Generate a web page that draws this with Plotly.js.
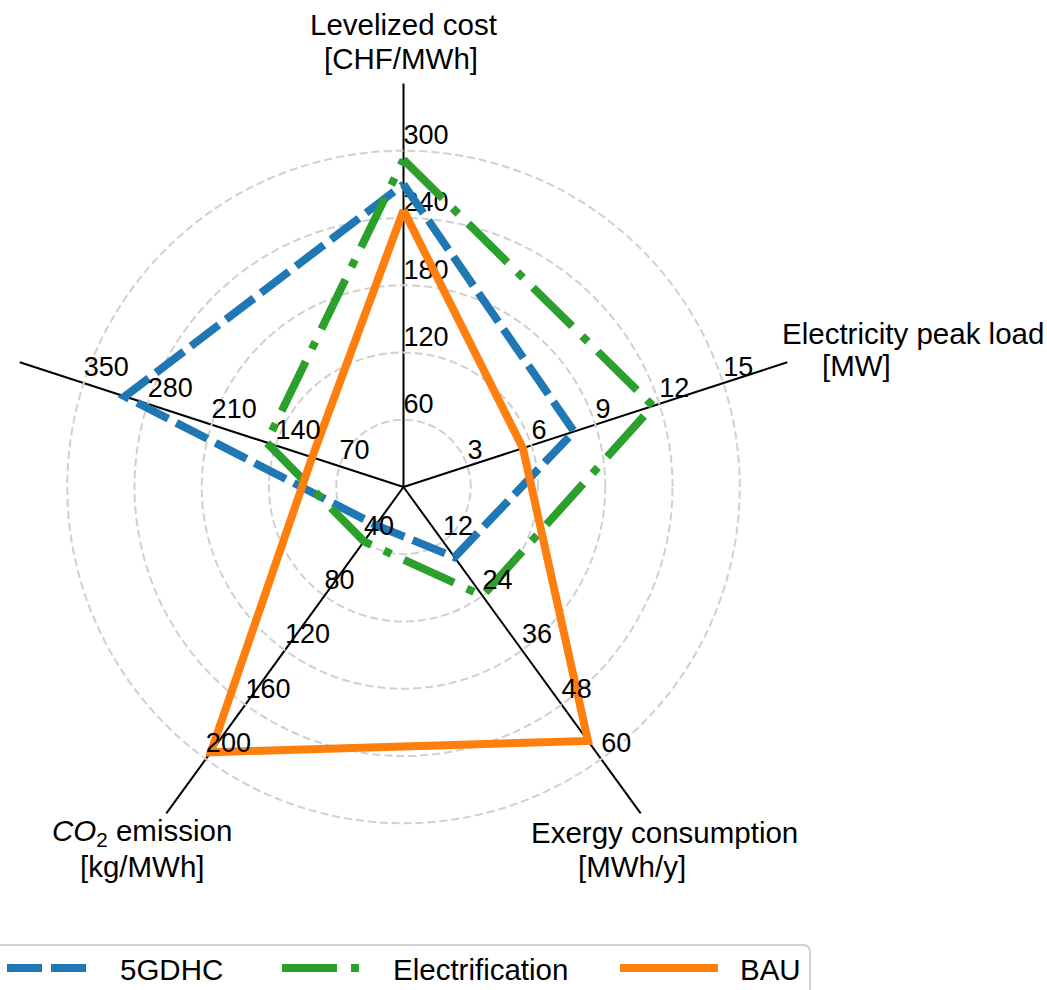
<!DOCTYPE html>
<html>
<head>
<meta charset="utf-8">
<script src="https://cdn.plot.ly/plotly-3.0.1.min.js"></script>
<style>html,body{margin:0;padding:0;background:#fff;}#chart{width:1047px;height:990px;}</style>
</head>
<body>
<div id="chart"></div>
<script>
// ---- data ----
const axisNames = ['Levelized cost', 'Electricity peak load', 'Exergy consumption', 'CO2 emission', 'Fifth axis'];
const ticksCost = [60, 120, 180, 240, 300];
const ticksPeak = [3, 6, 9, 12, 15];
const ticksExergy = [12, 24, 36, 48, 60];
const ticksCO2 = [40, 80, 120, 160, 200];
const ticksFifth = [70, 140, 210, 280, 350];
const seriesNames = ['5GDHC', 'Electrification', 'BAU'];
const gdhc = [270, 8.0, 15.5, 28, 305];
const electrification = [292, 11.7, 24, 40, 150];
const bau = [247, 5.6, 56, 195, 100];

// ---- helpers ----
const W = 1047, H = 990;
const px = x => x / W;
const py = y => 1 - y / H;
const tickSets = [ticksCost, ticksPeak, ticksExergy, ticksCO2, ticksFifth];
const steps = tickSets.map(t => t[1] - t[0]);
const FONT = '"Liberation Sans", Arial, sans-serif';

function tickTrace(i) {
  const t = tickSets[i];
  return {
    type: 'scatterpolar', mode: 'text',
    r: t.map(v => v / steps[i]),
    theta: t.map(() => axisNames[i]),
    text: t.map(String),
    textposition: 'top right',
    textfont: {family: FONT, size: 27, color: '#000'},
    cliponaxis: false, hoverinfo: 'skip', showlegend: false
  };
}
function seriesTrace(vals, name, color, dash) {
  const r = vals.map((v, i) => v / steps[i]);
  const th = axisNames.slice();
  r.push(r[0]); th.push(th[0]);
  return {
    type: 'scatterpolar', mode: 'lines', name: name,
    r: r, theta: th,
    line: {color: color, width: 8, dash: dash},
    cliponaxis: false, showlegend: false, hoverinfo: 'skip'
  };
}

const traces = [
  tickTrace(0),
  seriesTrace(gdhc, seriesNames[0], '#1f77b4', '35px,9px'),
  seriesTrace(electrification, seriesNames[1], '#2ca02c', '55px,14px,8px,14px'),
  seriesTrace(bau, seriesNames[2], '#ff7f0e', 'solid'),
  tickTrace(1), tickTrace(2), tickTrace(3), tickTrace(4)
];

function ann(text, x, y, xanchor) {
  return {text: text, x: px(x), y: py(y), xref: 'paper', yref: 'paper',
    xanchor: xanchor, yanchor: 'middle', showarrow: false,
    font: {family: FONT, size: 29.5, color: '#000'}};
}
const annotations = [
  ann('Levelized cost', 403, 24, 'center'),
  ann('[CHF/MWh]', 401, 58, 'center'),
  ann('Electricity peak load', 780, 333, 'left'),
  ann('[MW]', 820, 366, 'left'),
  ann('Exergy consumption', 529, 832, 'left'),
  ann('[MWh/y]', 576, 866, 'left'),
  ann('<i>CO</i><sub>2</sub> emission', 142, 832, 'center'),
  ann('[kg/MWh]', 142, 866, 'center'),
  ann(seriesNames[0], 118, 969, 'left'),
  ann(seriesNames[1], 391, 969, 'left'),
  ann(seriesNames[2], 738, 969, 'left')
];

const boxPath = 'M ' + px(-10) + ',' + py(945) + ' L ' + px(803) + ',' + py(945) +
  ' Q ' + px(810) + ',' + py(945) + ' ' + px(810) + ',' + py(952) +
  ' L ' + px(810) + ',' + py(1000);
function legLine(x0, x1, color, dash) {
  return {type: 'line', xref: 'paper', yref: 'paper', x0: px(x0), x1: px(x1), y0: py(968), y1: py(968),
    line: {color: color, width: 8, dash: dash}};
}
const shapes = [
  {type: 'path', xref: 'paper', yref: 'paper', path: boxPath, line: {color: '#d0d0d0', width: 2}},
  legLine(7, 87, '#1f77b4', '35px,9px'),
  legLine(282, 361, '#2ca02c', '55px,14px,8px,14px'),
  legLine(620, 718, '#ff7f0e', 'solid')
];

const layout = {
  width: W, height: H,
  margin: {l: 0, r: 0, t: 0, b: 0},
  paper_bgcolor: '#fff',
  showlegend: false,
  polar: {
    domain: {x: [0, 807 / W], y: [py(891), py(83)]},
    bgcolor: 'rgba(0,0,0,0)',
    radialaxis: {range: [0, 6], tickvals: [1, 2, 3, 4, 5], showticklabels: false, ticks: '',
      showline: false, gridcolor: '#d0d0d0', gridwidth: 2, griddash: '8px,4px'},
    angularaxis: {type: 'category', categoryarray: axisNames, rotation: 90, direction: 'clockwise',
      showline: false, showticklabels: false, ticks: '', gridcolor: '#000', gridwidth: 2}
  },
  annotations: annotations,
  shapes: shapes
};

Plotly.newPlot('chart', traces, layout, {displayModeBar: false, staticPlot: true});
</script>
</body>
</html>
